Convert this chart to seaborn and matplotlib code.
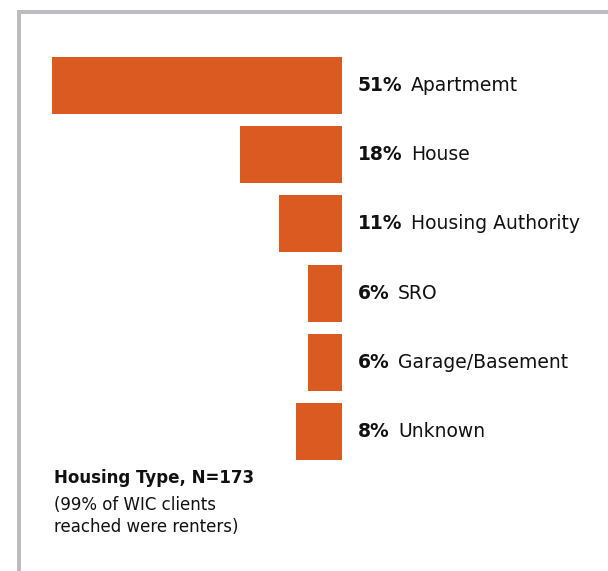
import matplotlib
matplotlib.use('Agg')
import matplotlib.pyplot as plt
import matplotlib.patches as mpatches
import seaborn as sns
import pandas as pd

# Datos
categorias = ['Apartmemt', 'House', 'Housing Authority', 'SRO', 'Garage/Basement', 'Unknown']
porcentajes = [51, 18, 11, 6, 6, 8]

df = pd.DataFrame({'tipo': categorias, 'pct': porcentajes})

sns.set_style('white')
plt.rcParams['font.family'] = ['DejaVu Sans']

W, H = 608, 571
fig = plt.figure(figsize=(W / 100, H / 100), dpi=100)
ax = fig.add_axes([0, 0, 1, 1])

naranja = '#DA5A22'
gris = '#BCBDC0'

sns.barplot(data=df, x='pct', y='tipo', orient='h', color=naranja,
            width=0.824, saturation=1, linewidth=0, ax=ax)

# Escala: 0 en x=342 px, ~5.69 px por punto porcentual, barras hacia la izquierda
px_por_pct = 5.69
ax.set_xlim(342 / px_por_pct, -(W - 342) / px_por_pct)
# Centro de la barra i en y = 85.5 + 69.2*i px desde arriba
ax.set_ylim((H - 85.5) / 69.2, -85.5 / 69.2)
ax.set_axis_off()

# Etiquetas: porcentaje en negrita + nombre
x_txt = -(358 - 342) / px_por_pct
for i, (cat, p) in enumerate(zip(categorias, porcentajes)):
    t = ax.text(x_txt, i, f'{p}%', fontsize=13.5, fontweight='bold',
                ha='left', va='center', color='#111111')
    ax.annotate(cat, xy=(1, 0.5), xycoords=t, xytext=(6, 0),
                textcoords='offset points', fontsize=13.5, ha='left',
                va='center', color='#111111')

# Texto de pie
fig.text(54 / W, 1 - 478 / H, 'Housing Type, N=173', fontsize=12,
         fontweight='bold', ha='left', va='center', color='#111111')
fig.text(54 / W, 1 - 516 / H, '(99% of WIC clients\nreached were renters)',
         fontsize=12, ha='left', va='center', color='#111111', linespacing=1.3)

# Marco gris superior e izquierdo
fig.add_artist(mpatches.Rectangle((17 / W, 0), 4 / W, 1 - 10 / H,
                                  transform=fig.transFigure, color=gris, lw=0))
fig.add_artist(mpatches.Rectangle((17 / W, 1 - 14 / H), 1, 4 / H,
                                  transform=fig.transFigure, color=gris, lw=0))

plt.savefig('out.png', dpi=100)
plt.close()
